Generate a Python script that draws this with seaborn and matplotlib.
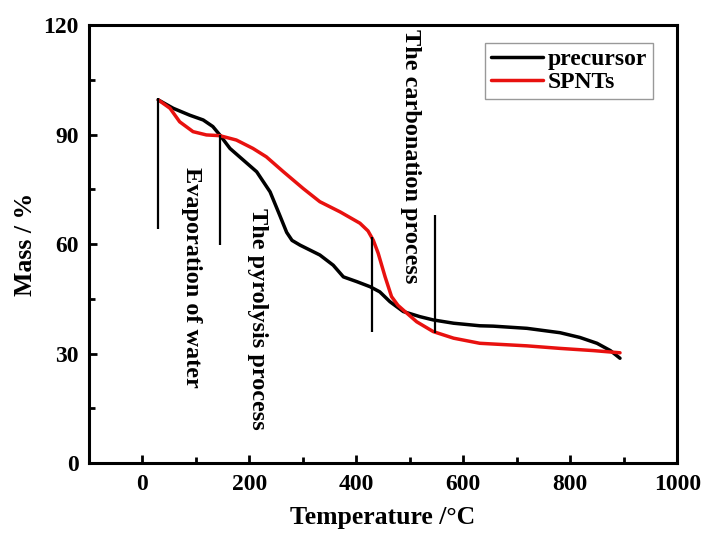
import numpy as np
import pandas as pd
import seaborn as sns
import matplotlib.pyplot as plt
from matplotlib.ticker import MultipleLocator

sns.set_style("ticks", {"axes.edgecolor": "black", "text.color": "black",
                        "axes.labelcolor": "black", "xtick.color": "black",
                        "ytick.color": "black"})
plt.rcParams['font.family'] = ['Liberation Serif', 'DejaVu Serif']
plt.rcParams['font.weight'] = 'bold'

# TGA curves
precursor_temp = [30, 58, 89, 114, 132, 145, 164, 189, 214, 239, 257, 270, 280, 295, 332,
                  357, 376, 401, 426, 444, 463, 488, 519, 544, 582, 631, 656, 719, 781,
                  818, 850, 875, 893]
precursor_mass = [99.5, 97.2, 95.3, 94.0, 92.2, 89.9, 86.2, 83.0, 79.8, 74.3, 67.9, 63.2,
                  61.0, 59.7, 57.0, 54.2, 51.0, 49.7, 48.3, 46.9, 44.2, 41.5, 40.1, 39.2,
                  38.3, 37.6, 37.5, 36.9, 35.7, 34.4, 32.8, 30.8, 28.7]

spnt_temp = [30, 52, 70, 95, 120, 145, 176, 207, 232, 264, 301, 332, 370, 407, 422, 432,
             441, 454, 466, 478, 488, 513, 544, 582, 631, 656, 719, 781, 843, 893]
spnt_mass = [99.5, 97.2, 93.5, 90.8, 89.9, 89.7, 88.5, 86.2, 83.9, 79.8, 75.2, 71.6, 68.8,
             65.7, 63.6, 61.0, 57.5, 51.0, 45.6, 43.2, 41.9, 38.7, 36.0, 34.2, 32.8, 32.6,
             32.1, 31.4, 30.8, 30.2]

# vertical stage markers
marker_x = [30, 145, 430, 548]
marker_top = [100, 90, 62, 68]
marker_bottom = [64, 59.7, 36, 35.6]

stage_labels = ["Evaporation of water", "The pyrolysis process", "The carbonation process"]
stage_x = [93, 216, 502]
stage_y = [81, 70, 119]

df = pd.concat([
    pd.DataFrame({"T": precursor_temp, "mass": precursor_mass, "sample": "precursor"}),
    pd.DataFrame({"T": spnt_temp, "mass": spnt_mass, "sample": "SPNTs"}),
])

fig = plt.figure(figsize=(7.04, 5.34), dpi=100)
ax = fig.add_axes([0.126, 0.133, 0.836, 0.820])

sns.lineplot(data=df, x="T", y="mass", hue="sample", sort=False,
             palette={"precursor": "black", "SPNTs": "#e8110f"},
             linewidth=2.5, ax=ax)

ax.vlines(marker_x, marker_bottom, marker_top, colors="black", linewidth=1.6)

for lab, x, y in zip(stage_labels, stage_x, stage_y):
    ax.text(x, y, lab, rotation=-90, ha="center", va="top",
            fontsize=17.5, fontweight="bold")

ax.set_xlim(-100, 1000)
ax.set_ylim(0, 120)
ax.xaxis.set_major_locator(MultipleLocator(200))
ax.xaxis.set_minor_locator(MultipleLocator(100))
ax.yaxis.set_major_locator(MultipleLocator(30))
ax.yaxis.set_minor_locator(MultipleLocator(15))
ax.tick_params(which="both", direction="in", width=2, labelsize=17)
ax.tick_params(which="major", length=6)
ax.tick_params(which="minor", length=4)
ax.tick_params(axis="x", pad=8)
ax.tick_params(axis="y", pad=7)
for lbl in ax.get_xticklabels() + ax.get_yticklabels():
    lbl.set_fontweight("bold")
for s in ax.spines.values():
    s.set_linewidth(2.2)

ax.set_xlabel("Temperature /°C", fontsize=18.5, fontweight="bold", labelpad=8)
ax.set_ylabel("Mass / %", fontsize=18.5, fontweight="bold", labelpad=5)

leg = ax.legend(loc="upper right", bbox_to_anchor=(0.959, 0.959), borderaxespad=0,
                fontsize=17, frameon=True, fancybox=False, edgecolor="gray",
                handlelength=2.2, handletextpad=0.2, labelspacing=0.05, borderpad=0.25)
leg.get_frame().set_linewidth(1.0)
for t in leg.get_texts():
    t.set_fontweight("bold")

fig.savefig("out.png", dpi=100)
